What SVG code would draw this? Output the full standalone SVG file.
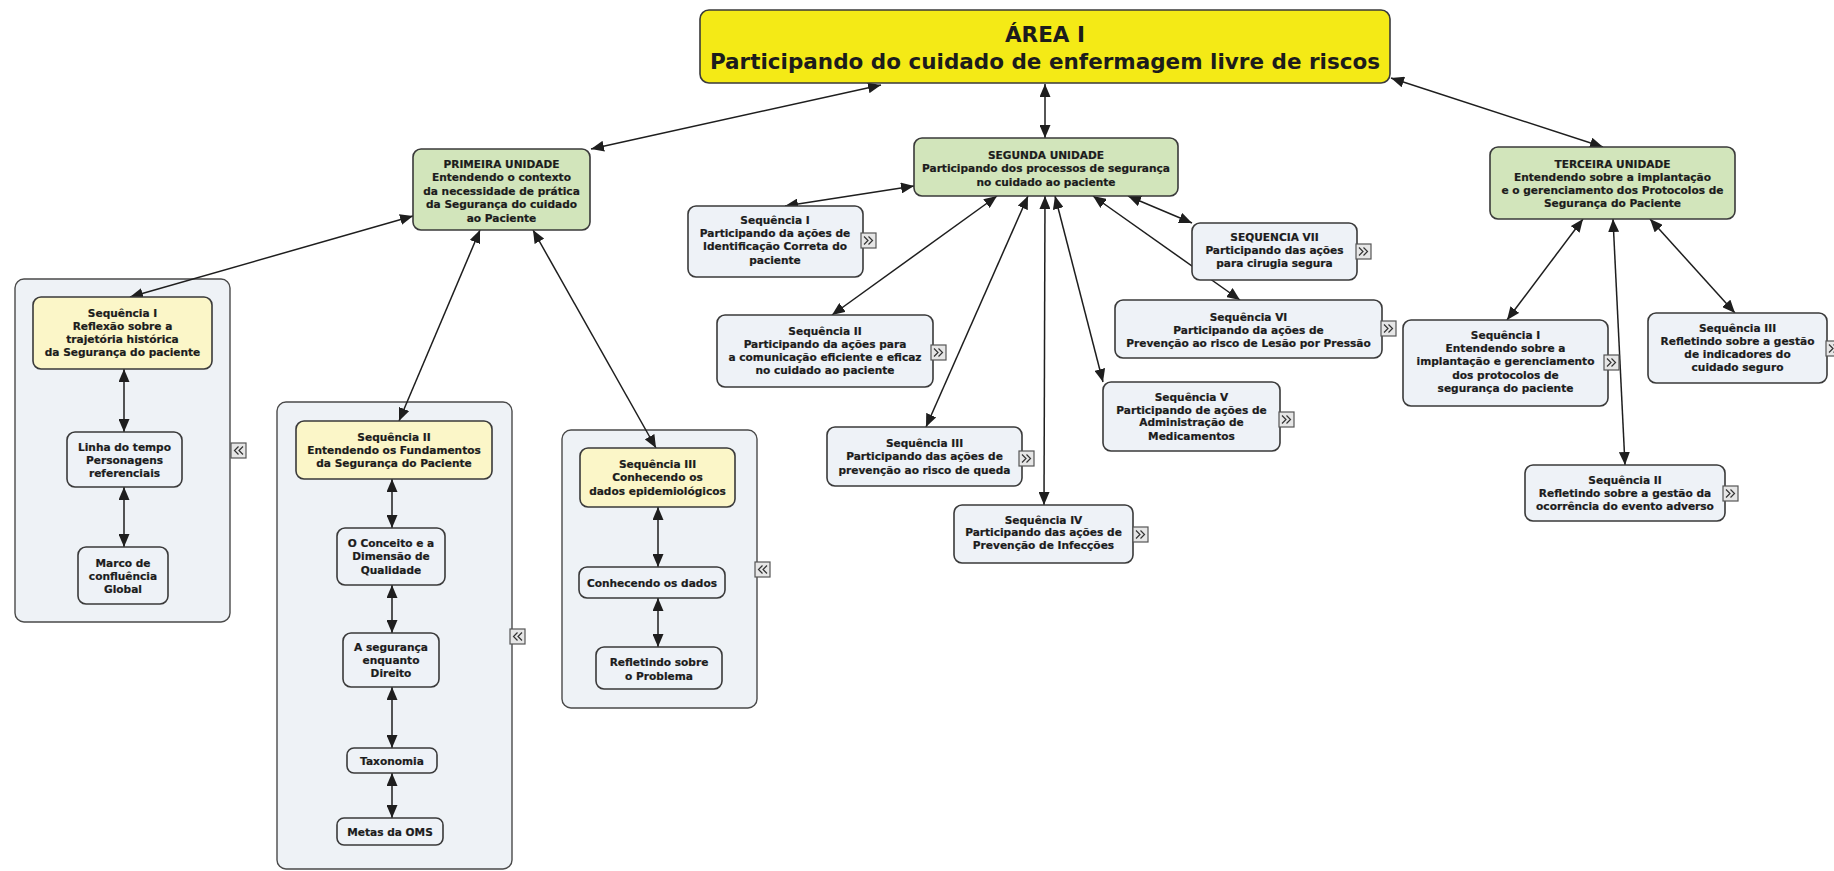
<svg xmlns="http://www.w3.org/2000/svg" width="1834" height="871" viewBox="0 0 1834 871">
  <style>
    .box { stroke: #3a3a3a; stroke-width: 1.6; }
    .main { fill: #f4ea16; }
    .unit { fill: #d2e5bb; }
    .seq { fill: #fbf6c8; }
    .leaf { fill: #eef2f7; }
    .cont { fill: #eef2f6; stroke: #4a4a4a; stroke-width: 1.4; }
    .t { font-family: "DejaVu Sans", Verdana, sans-serif; font-weight: bold; font-size: 10.6px; fill: #1c1c1c; stroke: #1c1c1c; stroke-width: 0.2; text-anchor: middle; }
    .tt { font-family: "DejaVu Sans", Verdana, sans-serif; font-weight: bold; font-size: 21.5px; fill: #1c1c1c; text-anchor: middle; }
    .lnk { stroke: #1e1e1e; stroke-width: 1.5; fill: none; marker-start: url(#ah); marker-end: url(#ah); }
    .ico { fill: #e6e6e6; stroke: #555; stroke-width: 1.2; }
    .chev { fill: none; stroke: #333; stroke-width: 1.2; }
  </style>
  <defs>
    <marker id="ah" markerUnits="userSpaceOnUse" markerWidth="14" markerHeight="11" refX="13" refY="5.5" orient="auto-start-reverse">
      <path d="M0,0 L13,5.5 L0,11 z" fill="#1e1e1e"/>
    </marker>
    <!-- expand / collapse badges -->
    <g id="more">
      <rect class="ico" x="0" y="0" width="15" height="15"/>
      <path class="chev" d="M3,3.5 L7,7.5 L3,11.5 M7.5,3.5 L11.5,7.5 L7.5,11.5"/>
    </g>
    <g id="less">
      <rect class="ico" x="0" y="0" width="15" height="15"/>
      <path class="chev" d="M12,3.5 L8,7.5 L12,11.5 M7.5,3.5 L3.5,7.5 L7.5,11.5"/>
    </g>
  </defs>

  <rect width="1834" height="871" fill="#ffffff"/>

  <!-- containers -->
  <g id="grp-seq1">
    <rect class="cont" x="15" y="279" width="215" height="343" rx="9"/>
    <use href="#less" x="231" y="443"/>
  </g>
  <g id="grp-seq2">
    <rect class="cont" x="277" y="402" width="235" height="467" rx="9"/>
    <use href="#less" x="510" y="629"/>
  </g>
  <g id="grp-seq3">
    <rect class="cont" x="562" y="430" width="195" height="278" rx="9"/>
    <use href="#less" x="755" y="562"/>
  </g>

  <!-- connectors -->
  <g id="connectors">
    <line class="lnk" x1="881" y1="85" x2="591" y2="149"/>
    <line class="lnk" x1="1045" y1="84" x2="1045" y2="138"/>
    <line class="lnk" x1="1391" y1="78" x2="1603" y2="147"/>
    <line class="lnk" x1="413" y1="216" x2="130" y2="297"/>
    <line class="lnk" x1="480" y1="230" x2="399" y2="421"/>
    <line class="lnk" x1="533" y1="230" x2="656" y2="448"/>
    <line class="lnk" x1="914" y1="186" x2="785" y2="206"/>
    <line class="lnk" x1="997" y1="196" x2="832" y2="315"/>
    <line class="lnk" x1="1028" y1="196" x2="926" y2="427"/>
    <line class="lnk" x1="1045" y1="196" x2="1044" y2="505"/>
    <line class="lnk" x1="1055" y1="196" x2="1103" y2="382"/>
    <line class="lnk" x1="1093" y1="196" x2="1240" y2="300"/>
    <line class="lnk" x1="1128" y1="196" x2="1192" y2="223"/>
    <line class="lnk" x1="1583" y1="219" x2="1507" y2="320"/>
    <line class="lnk" x1="1613" y1="219" x2="1625" y2="465"/>
    <line class="lnk" x1="1650" y1="219" x2="1735" y2="313"/>
    <line class="lnk" x1="124" y1="369" x2="124" y2="432"/>
    <line class="lnk" x1="124" y1="487" x2="124" y2="547"/>
    <line class="lnk" x1="392" y1="479" x2="392" y2="528"/>
    <line class="lnk" x1="392" y1="585" x2="392" y2="633"/>
    <line class="lnk" x1="392" y1="687" x2="392" y2="748"/>
    <line class="lnk" x1="392" y1="773" x2="392" y2="818"/>
    <line class="lnk" x1="658" y1="507" x2="658" y2="567"/>
    <line class="lnk" x1="658" y1="598" x2="658" y2="647"/>
  </g>

  <!-- root -->
  <g id="area-i">
    <rect class="box main" x="700" y="10" width="690" height="73" rx="9"/>
    <text class="tt" x="1045" y="42">ÁREA I</text>
    <text class="tt" x="1045" y="69">Participando do cuidado de enfermagem livre de riscos</text>
  </g>

  <!-- units -->
  <g id="primeira-unidade">
    <rect class="box unit" x="413" y="149" width="177" height="81" rx="8"/>
    <text class="t" x="501.5" y="167.5">PRIMEIRA UNIDADE</text>
    <text class="t" x="501.5" y="181">Entendendo o contexto</text>
    <text class="t" x="501.5" y="194.5">da necessidade de prática</text>
    <text class="t" x="501.5" y="208">da Segurança do cuidado</text>
    <text class="t" x="501.5" y="221.5">ao Paciente</text>
  </g>
  <g id="segunda-unidade">
    <rect class="box unit" x="914" y="138" width="264" height="58" rx="8"/>
    <text class="t" x="1046" y="158.5">SEGUNDA UNIDADE</text>
    <text class="t" x="1046" y="172">Participando dos processos de segurança</text>
    <text class="t" x="1046" y="185.5">no cuidado ao paciente</text>
  </g>
  <g id="terceira-unidade">
    <rect class="box unit" x="1490" y="147" width="245" height="72" rx="8"/>
    <text class="t" x="1612.5" y="167.5">TERCEIRA UNIDADE</text>
    <text class="t" x="1612.5" y="180.5">Entendendo sobre a implantação</text>
    <text class="t" x="1612.5" y="193.5">e o gerenciamento dos Protocolos de</text>
    <text class="t" x="1612.5" y="206.5">Segurança do Paciente</text>
  </g>

  <!-- first unit: sequences -->
  <g id="u1-seq1">
    <rect class="box seq" x="33" y="297" width="179" height="72" rx="8"/>
    <text class="t" x="122.5" y="317">Sequência I</text>
    <text class="t" x="122.5" y="330">Reflexão sobre a</text>
    <text class="t" x="122.5" y="343">trajetória histórica</text>
    <text class="t" x="122.5" y="356">da Segurança do paciente</text>
  </g>
  <g id="u1-linha">
    <rect class="box leaf" x="67" y="432" width="115" height="55" rx="8"/>
    <text class="t" x="124.5" y="450.5">Linha do tempo</text>
    <text class="t" x="124.5" y="463.5">Personagens</text>
    <text class="t" x="124.5" y="476.5">referenciais</text>
  </g>
  <g id="u1-marco">
    <rect class="box leaf" x="78" y="547" width="90" height="57" rx="8"/>
    <text class="t" x="123" y="566.5">Marco de</text>
    <text class="t" x="123" y="579.5">confluência</text>
    <text class="t" x="123" y="592.5">Global</text>
  </g>

  <g id="u1-seq2">
    <rect class="box seq" x="296" y="421" width="196" height="58" rx="8"/>
    <text class="t" x="394" y="440.5">Sequência II</text>
    <text class="t" x="394" y="453.5">Entendendo os Fundamentos</text>
    <text class="t" x="394" y="466.5">da Segurança do Paciente</text>
  </g>
  <g id="u1-conceito">
    <rect class="box leaf" x="337" y="528" width="108" height="57" rx="8"/>
    <text class="t" x="391" y="546.5">O Conceito e a</text>
    <text class="t" x="391" y="560">Dimensão de</text>
    <text class="t" x="391" y="573.5">Qualidade</text>
  </g>
  <g id="u1-direito">
    <rect class="box leaf" x="343" y="633" width="96" height="54" rx="8"/>
    <text class="t" x="391" y="650.5">A segurança</text>
    <text class="t" x="391" y="663.5">enquanto</text>
    <text class="t" x="391" y="676.5">Direito</text>
  </g>
  <g id="u1-taxonomia">
    <rect class="box leaf" x="347" y="748" width="90" height="25" rx="7"/>
    <text class="t" x="392" y="764.5">Taxonomia</text>
  </g>
  <g id="u1-metas">
    <rect class="box leaf" x="337" y="818" width="106" height="27" rx="7"/>
    <text class="t" x="390" y="835.5">Metas da OMS</text>
  </g>

  <g id="u1-seq3">
    <rect class="box seq" x="580" y="448" width="155" height="59" rx="8"/>
    <text class="t" x="657.5" y="467.5">Sequência III</text>
    <text class="t" x="657.5" y="481">Conhecendo os</text>
    <text class="t" x="657.5" y="494.5">dados epidemiológicos</text>
  </g>
  <g id="u1-conhecendo">
    <rect class="box leaf" x="579" y="567" width="146" height="31" rx="8"/>
    <text class="t" x="652" y="586.5">Conhecendo os dados</text>
  </g>
  <g id="u1-refletindo">
    <rect class="box leaf" x="596" y="647" width="126" height="42" rx="8"/>
    <text class="t" x="659" y="665.5">Refletindo sobre</text>
    <text class="t" x="659" y="679.5">o Problema</text>
  </g>

  <!-- second unit: sequences -->
  <g id="u2-seq1">
    <rect class="box leaf" x="688" y="206" width="175" height="71" rx="8"/>
    <text class="t" x="775" y="223.5">Sequência I</text>
    <text class="t" x="775" y="236.5">Participando da ações de</text>
    <text class="t" x="775" y="250">Identificação Correta do</text>
    <text class="t" x="775" y="264">paciente</text>
    <use href="#more" x="861" y="233"/>
  </g>
  <g id="u2-seq2">
    <rect class="box leaf" x="717" y="315" width="216" height="72" rx="8"/>
    <text class="t" x="825" y="335">Sequência II</text>
    <text class="t" x="825" y="348">Participando da ações para</text>
    <text class="t" x="825" y="361">a comunicação eficiente e eficaz</text>
    <text class="t" x="825" y="374">no cuidado ao paciente</text>
    <use href="#more" x="931" y="345"/>
  </g>
  <g id="u2-seq3">
    <rect class="box leaf" x="827" y="427" width="195" height="59" rx="8"/>
    <text class="t" x="924.5" y="446.5">Sequência III</text>
    <text class="t" x="924.5" y="460">Participando das ações de</text>
    <text class="t" x="924.5" y="474">prevenção ao risco de queda</text>
    <use href="#more" x="1019" y="451"/>
  </g>
  <g id="u2-seq4">
    <rect class="box leaf" x="954" y="505" width="179" height="58" rx="8"/>
    <text class="t" x="1043.5" y="523.5">Sequência IV</text>
    <text class="t" x="1043.5" y="536">Participando das ações de</text>
    <text class="t" x="1043.5" y="549">Prevenção de Infecções</text>
    <use href="#more" x="1133" y="527"/>
  </g>
  <g id="u2-seq5">
    <rect class="box leaf" x="1103" y="382" width="177" height="69" rx="8"/>
    <text class="t" x="1191.5" y="400.5">Sequência V</text>
    <text class="t" x="1191.5" y="413.5">Participando de ações de</text>
    <text class="t" x="1191.5" y="426">Administração de</text>
    <text class="t" x="1191.5" y="439.5">Medicamentos</text>
    <use href="#more" x="1279" y="412"/>
  </g>
  <g id="u2-seq6">
    <rect class="box leaf" x="1115" y="300" width="267" height="58" rx="8"/>
    <text class="t" x="1248.5" y="320.5">Sequência VI</text>
    <text class="t" x="1248.5" y="333.5">Participando da ações de</text>
    <text class="t" x="1248.5" y="346.5">Prevenção ao risco de Lesão por Pressão</text>
    <use href="#more" x="1381" y="321"/>
  </g>
  <g id="u2-seq7">
    <rect class="box leaf" x="1192" y="223" width="165" height="57" rx="8"/>
    <text class="t" x="1274.5" y="240.5">SEQUENCIA VII</text>
    <text class="t" x="1274.5" y="253.5">Participando das ações</text>
    <text class="t" x="1274.5" y="266.5">para cirugia segura</text>
    <use href="#more" x="1356" y="244"/>
  </g>

  <!-- third unit: sequences -->
  <g id="u3-seq1">
    <rect class="box leaf" x="1403" y="320" width="205" height="86" rx="8"/>
    <text class="t" x="1505.5" y="338.5">Sequência I</text>
    <text class="t" x="1505.5" y="351.5">Entendendo sobre a</text>
    <text class="t" x="1505.5" y="365">implantação e gerenciamento</text>
    <text class="t" x="1505.5" y="378.5">dos protocolos de</text>
    <text class="t" x="1505.5" y="392">segurança do paciente</text>
    <use href="#more" x="1604" y="355"/>
  </g>
  <g id="u3-seq2">
    <rect class="box leaf" x="1525" y="465" width="200" height="56" rx="8"/>
    <text class="t" x="1625" y="483.5">Sequência II</text>
    <text class="t" x="1625" y="496.5">Refletindo sobre a gestão da</text>
    <text class="t" x="1625" y="510">ocorrência do evento adverso</text>
    <use href="#more" x="1723" y="486"/>
  </g>
  <g id="u3-seq3">
    <rect class="box leaf" x="1648" y="313" width="179" height="70" rx="8"/>
    <text class="t" x="1737.5" y="331.5">Sequência III</text>
    <text class="t" x="1737.5" y="345">Refletindo sobre a gestão</text>
    <text class="t" x="1737.5" y="357.5">de indicadores do</text>
    <text class="t" x="1737.5" y="370.5">cuidado seguro</text>
    <use href="#more" x="1826" y="341"/>
  </g>
</svg>
